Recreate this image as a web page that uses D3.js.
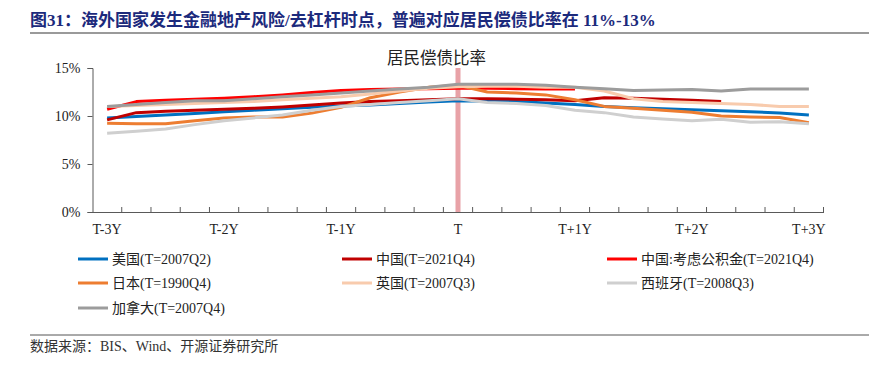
<!DOCTYPE html>
<html>
<head>
<meta charset="utf-8">
<script src="https://cdn.jsdelivr.net/npm/d3@7"></script>
<style>
  body { margin: 0; background: #fff; }
  svg text { font-family: "Liberation Serif", "Times New Roman", "Noto Sans CJK SC", serif; }
</style>
</head>
<body>
<svg id="chart" width="869" height="365"></svg>
<script>
// quarters relative to T
var quarters = [-12,-11,-10,-9,-8,-7,-6,-5,-4,-3,-2,-1,0,1,2,3,4,5,6,7,8,9,10,11,12];
var yearTicks = [-12,-8,-4,0,4,8,12];
var yearLabels = ["T-3Y","T-2Y","T-1Y","T","T+1Y","T+2Y","T+3Y"];
var yTicks = [0,5,10,15];

var names = ["美国(T=2007Q2)","中国(T=2021Q4)","中国:考虑公积金(T=2021Q4)","日本(T=1990Q4)","英国(T=2007Q3)","西班牙(T=2008Q3)","加拿大(T=2007Q4)"];
var colors = ["#0070C0","#C00000","#FF0000","#ED7D31","#F8CBAD","#CFCFCF","#9C9C9C"];

var usa    = [9.8,9.95,10.1,10.25,10.45,10.6,10.75,10.9,11.05,11.15,11.3,11.45,11.6,11.55,11.5,11.35,11.2,11.0,10.85,10.75,10.65,10.55,10.45,10.3,10.1];
var china  = [9.6,10.35,10.5,10.6,10.7,10.8,10.95,11.15,11.35,11.5,11.6,11.7,11.8,11.8,11.75,11.7,11.6,11.9,11.85,11.75,11.65,11.5];
var chinaHF= [10.7,11.5,11.65,11.75,11.85,12.0,12.2,12.45,12.65,12.75,12.8,12.85,12.9,12.9,12.85,12.8,12.8];
var japan  = [9.25,9.2,9.2,9.5,9.8,9.9,9.9,10.3,10.9,11.9,12.5,13.0,13.2,12.5,12.4,12.2,11.7,11.0,10.8,10.6,10.4,10.0,9.9,9.85,9.3];
var uk     = [11.0,11.1,11.2,11.3,11.4,11.5,11.7,11.85,12.0,12.3,12.6,12.9,13.05,13.1,13.1,13.0,13.0,12.6,11.8,11.5,11.4,11.3,11.2,11.0,11.0];
var spain  = [8.2,8.4,8.65,9.1,9.5,9.8,10.1,10.6,11.0,11.2,11.4,11.6,11.8,11.4,11.3,11.1,10.6,10.35,9.9,9.7,9.5,9.65,9.35,9.4,9.2];
var canada = [11.0,11.2,11.4,11.6,11.6,11.8,12.0,12.2,12.4,12.6,12.8,13.0,13.3,13.3,13.3,13.2,13.0,12.85,12.65,12.7,12.75,12.6,12.8,12.8,12.8];

var seriesData = [usa, china, chinaHF, japan, uk, spain, canada];

var svg = d3.select("#chart");

// title
svg.append("text")
  .attr("x", 30).attr("y", 26)
  .attr("font-size", 17).attr("font-weight", "bold")
  .attr("fill", "#1C2A7C")
  .text("图31：海外国家发生金融地产风险/去杠杆时点，普遍对应居民偿债比率在 11%-13%");
svg.append("line")
  .attr("x1", 30).attr("x2", 869).attr("y1", 33).attr("y2", 33)
  .attr("stroke", "#9A9A9A").attr("stroke-width", 2);

var x = d3.scaleBand().domain(quarters).range([92.5, 823.5]);
var y = d3.scaleLinear().domain([0, 15]).range([212, 68]);
var cx = function(q){ return x(q) + x.bandwidth() / 2; };

// marker band at T
svg.append("line")
  .attr("x1", cx(0)).attr("x2", cx(0))
  .attr("y1", y(15)).attr("y2", y(0))
  .attr("stroke", "#E8A2A7").attr("stroke-width", 5);

svg.append("text")
  .attr("x", 387).attr("y", 64)
  .attr("font-size", 16.5).attr("fill", "#222")
  .text("居民偿债比率");

// y axis
var yAxis = svg.append("g")
  .attr("transform", "translate(92.5,0)")
  .call(d3.axisLeft(y).tickValues(yTicks).tickSize(5).tickFormat(function(d){ return d + "%"; }));
yAxis.select(".domain").attr("stroke", "#595959");
yAxis.selectAll(".tick line").attr("stroke", "#595959");
yAxis.selectAll("text").attr("font-size", 14).attr("fill", "#222")
  .attr("font-family", "Liberation Serif").attr("dx", -4);

// x axis
var xAxis = svg.append("g")
  .attr("transform", "translate(0,212)")
  .call(d3.axisBottom(x).tickValues(yearTicks).tickSize(0)
    .tickFormat(function(d){ return yearLabels[yearTicks.indexOf(d)]; }));
xAxis.select(".domain").attr("stroke", "#595959");
xAxis.selectAll("text").attr("font-size", 14).attr("fill", "#222")
  .attr("font-family", "Liberation Serif").attr("dy", "1.35em");

// boundary ticks pointing up
var edges = quarters.slice(1).map(function(q){ return x(q); }).concat([x.range()[1]]);
xAxis.selectAll(".edge")
  .data(edges)
  .enter().append("line")
  .attr("class", "edge")
  .attr("x1", function(d){ return d; }).attr("x2", function(d){ return d; })
  .attr("y1", 0).attr("y2", -5)
  .attr("stroke", "#595959");

// lines
var line = d3.line()
  .x(function(d, i){ return cx(quarters[i]); })
  .y(function(d){ return y(d); });

svg.append("g").selectAll("path")
  .data(seriesData)
  .enter().append("path")
  .attr("d", function(d){ return line(d); })
  .attr("fill", "none")
  .attr("stroke", function(d, i){ return colors[i]; })
  .attr("stroke-width", 3)
  .attr("stroke-linejoin", "round");

// legend
var colX = [78, 342, 607];
var rowY = [259, 283, 308];
var leg = svg.append("g").selectAll("g")
  .data(names)
  .enter().append("g")
  .attr("transform", function(d, i){ return "translate(" + colX[i % 3] + "," + rowY[Math.floor(i / 3)] + ")"; });
leg.append("line")
  .attr("x1", 0).attr("x2", 30).attr("y1", 0).attr("y2", 0)
  .attr("stroke", function(d, i){ return colors[i]; })
  .attr("stroke-width", 3);
leg.append("text")
  .attr("x", 34).attr("y", 5)
  .attr("font-size", 14).attr("fill", "#222")
  .text(function(d){ return d; });

// footer
svg.append("line")
  .attr("x1", 30).attr("x2", 869).attr("y1", 335).attr("y2", 335)
  .attr("stroke", "#555").attr("stroke-width", 1);
svg.append("text")
  .attr("x", 30).attr("y", 351)
  .attr("font-size", 14).attr("fill", "#333")
  .text("数据来源：BIS、Wind、开源证券研究所");
</script>
</body>
</html>
